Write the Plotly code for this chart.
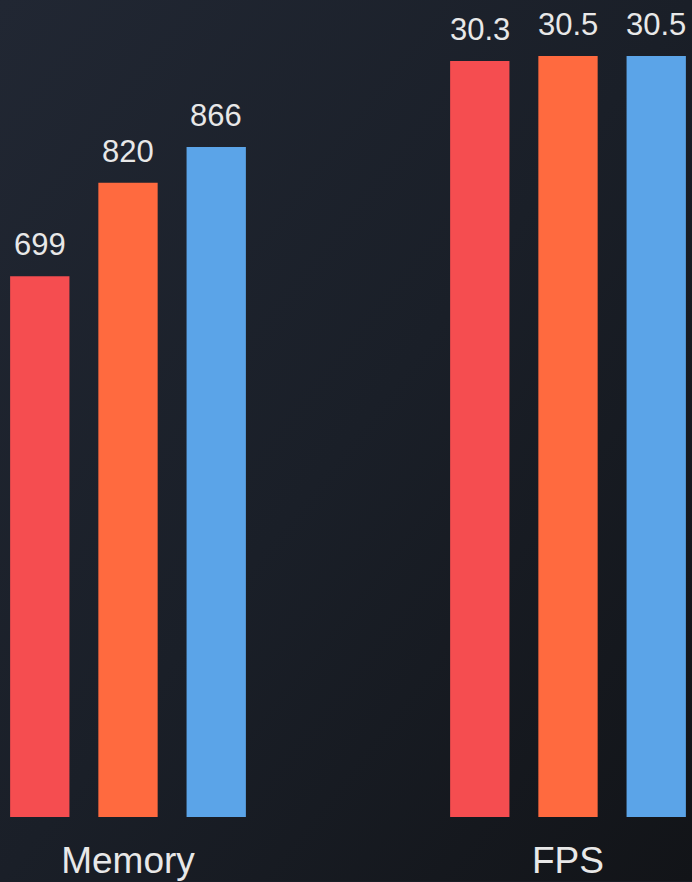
import base64
import plotly.graph_objects as go

# ---- data ----
categories = ["Memory", "FPS"]
series_names = ["A", "B", "C"]
memory_values = [699, 820, 866]
fps_values = [30.3, 30.5, 30.5]
memory_labels = ["699", "820", "866"]
fps_labels = ["30.3", "30.5", "30.5"]

# ---- styles ----
colors = ["#F54D50", "#FF6A3F", "#5BA4E8"]
W, H = 692, 882
B = 64.5
bar_w = 0.1348
pitch = 0.2005
text_color = "#E8E8E8"
FONT = "Liberation Sans, Arial, sans-serif"

svg = f'''<svg xmlns="http://www.w3.org/2000/svg" width="{W}" height="{H}" viewBox="0 0 {W} {H}" preserveAspectRatio="none">
<defs><linearGradient id="g" x1="0" y1="0" x2="1" y2="1">
<stop offset="0" stop-color="#212733"/>
<stop offset="0.5" stop-color="#1a1f28"/>
<stop offset="1" stop-color="#121418"/>
</linearGradient></defs>
<rect width="{W}" height="{H}" fill="url(#g)"/></svg>'''
bg_src = "data:image/svg+xml;base64," + base64.b64encode(svg.encode()).decode()

fig = go.Figure()
annotations = []
for i, name in enumerate(series_names):
    off = (i - 1) * pitch - bar_w / 2
    fig.add_trace(go.Bar(
        x=[categories[0]], y=[memory_values[i]], name=name,
        width=bar_w, offset=off, marker=dict(color=colors[i], line=dict(width=0)),
        yaxis="y", showlegend=False, hoverinfo="skip",
    ))
    fig.add_trace(go.Bar(
        x=[categories[1]], y=[fps_values[i]], name=name,
        width=bar_w, offset=off, marker=dict(color=colors[i], line=dict(width=0)),
        yaxis="y2", showlegend=False, hoverinfo="skip",
    ))
    annotations.append(dict(
        x=0 + (i - 1) * pitch, y=memory_values[i], xref="x", yref="y",
        text=memory_labels[i], showarrow=False, yanchor="bottom", yshift=12,
        font=dict(size=31, color=text_color, family=FONT),
    ))
    annotations.append(dict(
        x=1 + (i - 1) * pitch, y=fps_values[i], xref="x", yref="y2",
        text=fps_labels[i], showarrow=False, yanchor="bottom", yshift=12,
        font=dict(size=31, color=text_color, family=FONT),
    ))

plot_h = H - B
x0 = -128 / 440
x1 = x0 + W / 440
fig.update_layout(
    width=W, height=H,
    margin=dict(l=0, r=0, t=0, b=B),
    paper_bgcolor="#1a1f28", plot_bgcolor="rgba(0,0,0,0)",
    barmode="overlay",
    font=dict(family=FONT, color=text_color),
    xaxis=dict(type="category", range=[x0, x1], showgrid=False, zeroline=False,
               showline=False, ticks="", tickfont=dict(size=37, color=text_color),
               ticklabelstandoff=18),
    yaxis=dict(range=[0, 1056.2], visible=False, showgrid=False),
    yaxis2=dict(range=[0, 32.74], overlaying="y", visible=False, showgrid=False),
    annotations=annotations,
    images=[dict(source=bg_src, xref="paper", yref="paper", x=0, y=1,
                 sizex=1, sizey=H / plot_h, sizing="stretch",
                 xanchor="left", yanchor="top", layer="below")],
)
fig.write_html("out.html")
